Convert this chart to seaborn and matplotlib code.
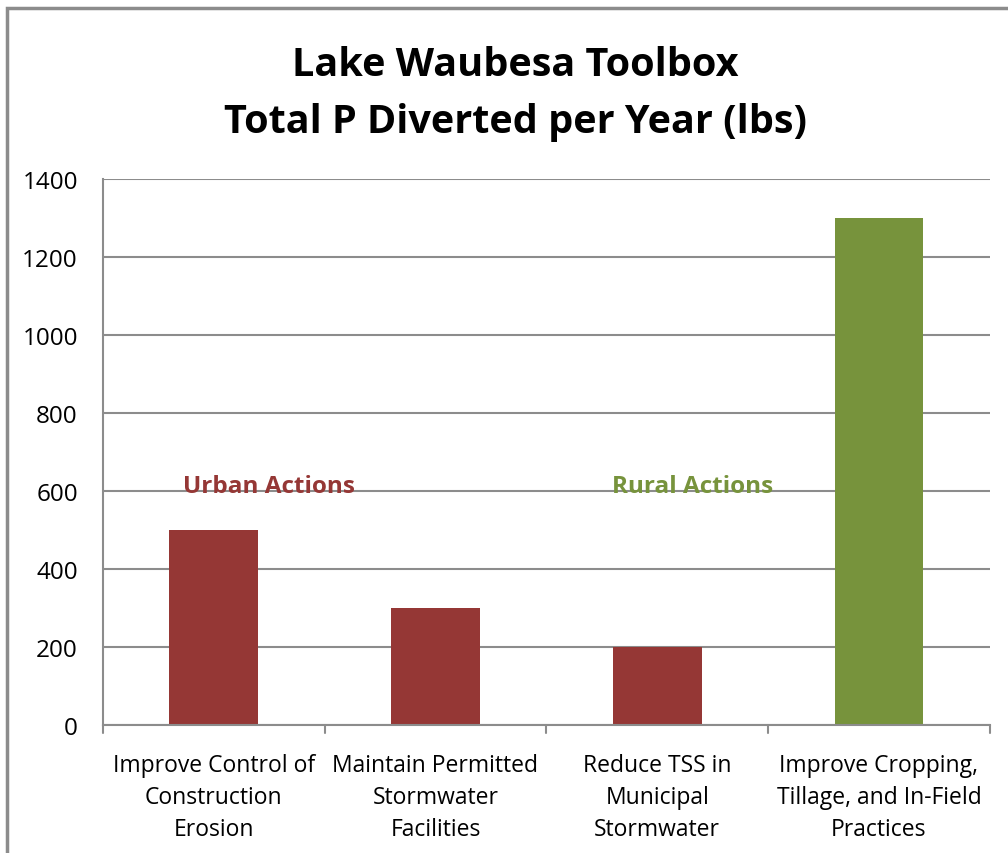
import matplotlib.pyplot as plt
import seaborn as sns
import pandas as pd
from matplotlib.patches import Rectangle

categories = ['Improve Control of\nConstruction\nErosion',
              'Maintain Permitted\nStormwater\nFacilities',
              'Reduce TSS in\nMunicipal\nStormwater',
              'Improve Cropping,\nTillage, and In-Field\nPractices']
values = [500, 300, 200, 1300]
groups = ['Urban', 'Urban', 'Urban', 'Rural']
yticks = [0, 200, 400, 600, 800, 1000, 1200, 1400]

red = '#953735'
green = '#77933C'

df = pd.DataFrame({'action': categories, 'lbs': values, 'group': groups})

sns.set_style('white')
plt.rcParams['font.family'] = ['Open Sans', 'DejaVu Sans']
plt.rcParams['text.color'] = 'black'
plt.rcParams['xtick.labelcolor'] = 'black'
plt.rcParams['ytick.labelcolor'] = 'black'

fig = plt.figure(figsize=(10.08, 8.54), dpi=100)
ax = fig.add_axes([0.102, 0.150, 0.880, 0.639])

sns.barplot(data=df, x='action', y='lbs', hue='group',
            palette={'Urban': red, 'Rural': green},
            width=0.4, dodge=False, legend=False, saturation=1,
            linewidth=0, ax=ax)

ax.set_ylim(0, 1400)
ax.set_yticks(yticks)
ax.set_xlim(-0.5, 3.5)
ax.yaxis.grid(True, color='#8c8c8c', linewidth=1.5)
ax.set_axisbelow(True)
for s in ['top', 'right']:
    ax.spines[s].set_visible(False)
for s in ['left', 'bottom']:
    ax.spines[s].set_color('#8c8c8c')
    ax.spines[s].set_linewidth(1.5)

ax.set_xlabel('')
ax.set_ylabel('')
ax.tick_params(axis='y', length=6, width=1.5, color='#8c8c8c', labelsize=17.5, pad=12)
ax.tick_params(axis='x', length=0, labelsize=16.5, pad=20)
for lbl in ax.get_xticklabels():
    lbl.set_linespacing(1.45)
# tick marks at category boundaries
for b in [-0.5, 0.5, 1.5, 2.5, 3.5]:
    ax.plot([b, b], [0, -0.015], transform=ax.get_xaxis_transform(),
            color='#8c8c8c', lw=1.5, clip_on=False)

ax.text(0.25, 613, 'Urban Actions', color=red, fontsize=17.5, fontweight='bold',
        ha='center', va='center')
ax.text(2.16, 613, 'Rural Actions', color=green, fontsize=17.5, fontweight='bold',
        ha='center', va='center')

fig.text(0.511, 0.890, 'Lake Waubesa Toolbox\nTotal P Diverted per Year (lbs)',
         ha='center', va='center', fontsize=28.5, fontweight='bold', linespacing=1.6)

fig.patches.append(Rectangle((0.007, -0.1), 1.2, 1.089, transform=fig.transFigure,
                             fill=False, edgecolor='#8c8c8c', linewidth=2.5))

fig.savefig('out.png', dpi=100)
